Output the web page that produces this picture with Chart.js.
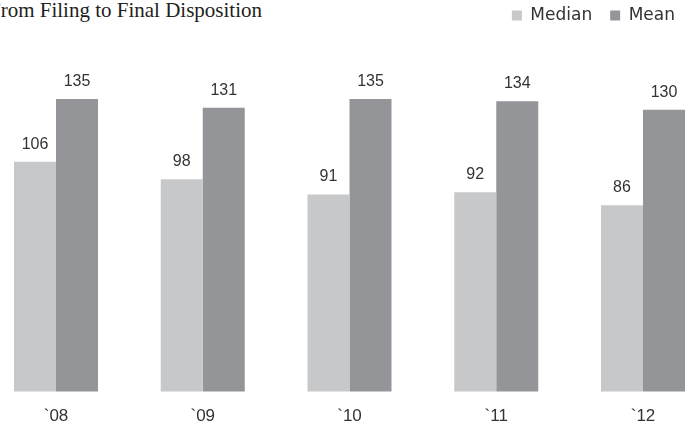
<!DOCTYPE html>
<html>
<head>
<meta charset="utf-8">
<script src="https://cdn.jsdelivr.net/npm/chart.js@4/dist/chart.umd.min.js"></script>
<style>
  html, body { margin: 0; padding: 0; background: #fff; overflow: hidden; width: 685px; height: 428px; }
  #title {
    position: absolute; left: -11px; top: 0;
    font: 21px/21px "Liberation Serif", "Times New Roman", serif;
    color: #231f20; white-space: nowrap;
  }
  #wrap { position: absolute; left: -11px; top: -11px; width: 704px; height: 453px; }
</style>
</head>
<body>
<div id="title">From Filing to Final Disposition</div>
<div id="wrap"><canvas id="chart" width="704" height="453"></canvas></div>
<script>
const YEARS = ['`08', '`09', '`10', '`11', '`12'];
const MEDIAN_DAYS = [106, 98, 91, 92, 86];
const MEAN_DAYS = [135, 131, 135, 134, 130];

const MEDIAN_COLOR = '#c7c8ca';
const MEAN_COLOR = '#939598';
const SANS = '"Liberation Sans", Arial, sans-serif';

// value printed above every bar
const barValueLabels = {
  id: 'barValueLabels',
  afterDatasetsDraw(chart) {
    const { ctx } = chart;
    ctx.save();
    ctx.font = '16px ' + SANS;
    ctx.fillStyle = '#333';
    ctx.textAlign = 'center';
    ctx.textBaseline = 'alphabetic';
    chart.data.datasets.forEach((ds, i) => {
      chart.getDatasetMeta(i).data.forEach((bar, j) => {
        ctx.fillText(String(ds.data[j]), bar.x, bar.y - 13);
      });
    });
    ctx.restore();
  },
};

// empty axes used only to reserve room on each side of the plot
function spacer(position, width) {
  return {
    type: 'linear',
    position,
    display: true,
    ticks: { display: false },
    grid: { display: false },
    border: { display: false },
    afterFit(scale) { scale.width = width; },
  };
}

new Chart(document.getElementById('chart'), {
  type: 'bar',
  data: {
    labels: YEARS,
    datasets: [
      { label: 'Median', data: MEDIAN_DAYS, backgroundColor: MEDIAN_COLOR, borderWidth: 0 },
      { label: 'Mean', data: MEAN_DAYS, backgroundColor: MEAN_COLOR, borderWidth: 0 },
    ],
  },
  options: {
    responsive: false,
    animation: false,
    layout: { padding: 0 },
    datasets: {
      bar: { categoryPercentage: 0.5724, barPercentage: 1, clip: false },
    },
    plugins: {
      tooltip: { enabled: false },
      legend: {
        display: true,
        position: 'top',
        align: 'end',
        labels: {
          color: '#333',
          font: { family: '"DejaVu Sans", sans-serif', size: 17 },
          boxWidth: 10,
          boxHeight: 10,
          padding: 18,
        },
      },
    },
    scales: {
      x: {
        type: 'category',
        offset: false,
        grid: { display: false, drawTicks: false },
        border: { display: false },
        ticks: { color: '#333', font: { family: SANS, size: 17 }, padding: 15 },
      },
      y: {
        ...spacer('left', 67),
        min: 0,
        max: 165,
      },
      yRight: spacer('right', 50),
    },
  },
  plugins: [barValueLabels],
});
</script>
</body>
</html>
